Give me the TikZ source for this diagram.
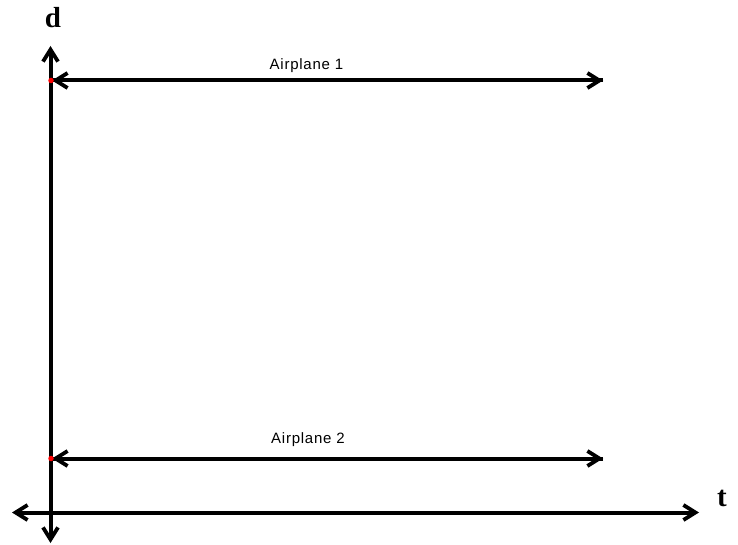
\documentclass[tikz,border=0pt]{standalone}
\usepackage{fontspec}
\setmainfont{Liberation Serif}
\newfontfamily\labelfont[LetterSpace=5]{Liberation Sans}
\usetikzlibrary{arrows.meta}
\tikzset{
  barb/.tip={Straight Barb[length=12pt,width=15pt,line width=3.8pt]},
  axis/.style={line width=4pt, barb-barb},
  track/.style={line width=4pt, -barb},
  origin/.style={circle, fill=red, inner sep=0pt, minimum size=5.5pt},
  axislabel/.style={font=\fontsize{29}{32}\selectfont\bfseries, inner sep=0pt},
  planelabel/.style={font=\labelfont\fontsize{15}{18}\selectfont, inner sep=0pt}
}
\begin{document}
\begin{tikzpicture}[x=1pt, y=-1pt]
  \useasboundingbox (0,0) rectangle (738,545);
  % axes
  \coordinate (dtop) at (50.5,46);
  \coordinate (dbot) at (50.5,543);
  \coordinate (tleft) at (12,512.5);
  \coordinate (tright) at (699,512.5);
  \draw[axis] (dbot) -- (dtop);
  \draw[axis] (tleft) -- (tright);
  \node[axislabel] (d) at (53,18) {d};
  \node[axislabel] (t) at (722,498.5) {t};
  % airplane tracks, pointing both ways
  \coordinate (a1start) at (52,80.5);
  \coordinate (a1end) at (603,80.5);
  \coordinate (a2start) at (52,458.5);
  \coordinate (a2end) at (603,458.5);
  \draw[track] (a1end) -- (a1start);
  \draw[track] (a2end) -- (a2start);
  \draw[track] (a1start) -- (a1end);
  \draw[track] (a2start) -- (a2end);
  \node[origin] (o1) at (51,80.5) {};
  \node[origin] (o2) at (51,458.5) {};
  \node[planelabel] (l1) at (306.5,66) {Airplane 1};
  \node[planelabel] (l2) at (308,440) {Airplane 2};
\end{tikzpicture}
\end{document}
